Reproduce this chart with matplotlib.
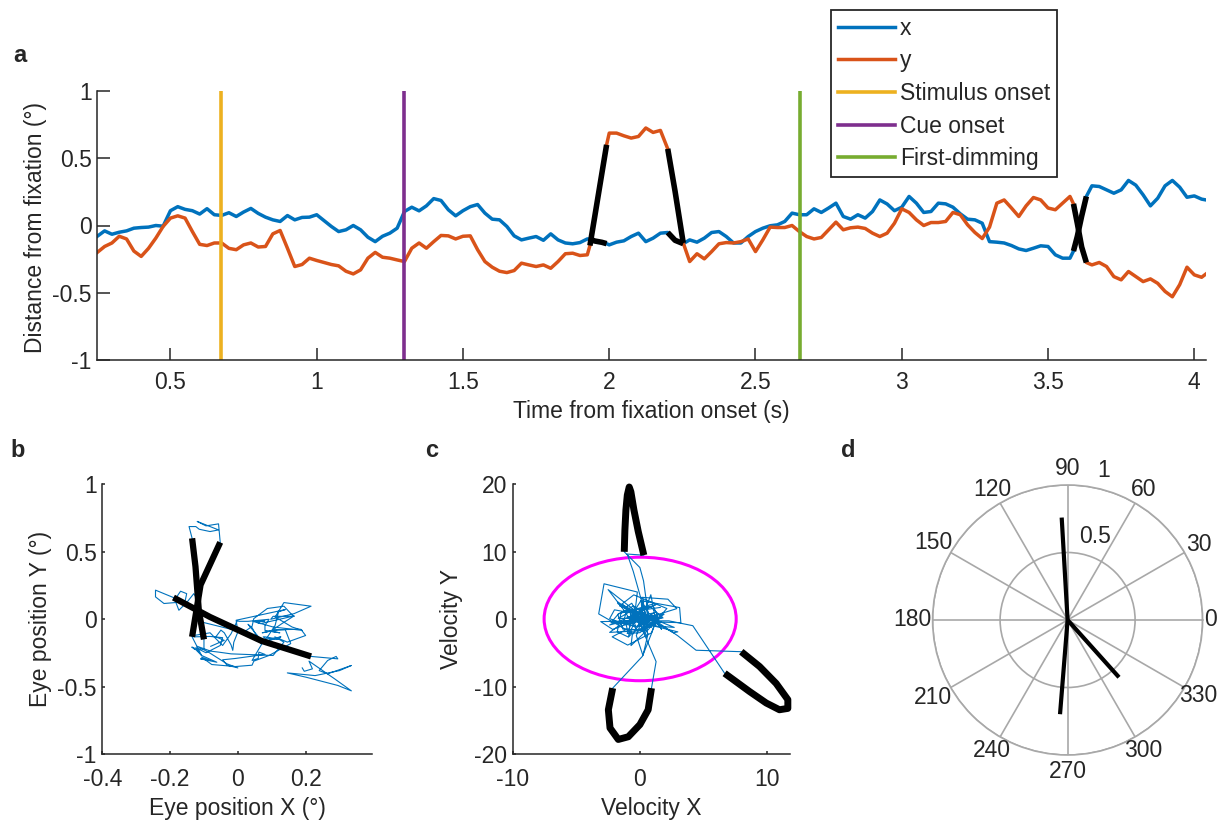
import numpy as np
import matplotlib
matplotlib.use('Agg')
import matplotlib.pyplot as plt
from matplotlib.patches import Ellipse

plt.rcParams['font.family'] = ['Liberation Sans', 'DejaVu Sans']
plt.rcParams['axes.unicode_minus'] = False
FS = 16.5
plt.rcParams['font.size'] = FS
INK = '#262626'
for k in ['text.color', 'axes.labelcolor', 'xtick.color', 'ytick.color', 'axes.edgecolor']:
    plt.rcParams[k] = INK

# ---------------- data ----------------
time_s = [0.250, 0.275, 0.300, 0.325, 0.350, 0.375, 0.400, 0.425, 0.450, 0.475,
          0.500, 0.525, 0.550, 0.575, 0.600, 0.625, 0.650, 0.675, 0.700, 0.725,
          0.750, 0.775, 0.800, 0.825, 0.850, 0.875, 0.900, 0.925, 0.950, 0.975,
          1.000, 1.025, 1.050, 1.075, 1.100, 1.125, 1.150, 1.175, 1.200, 1.225,
          1.250, 1.275, 1.300, 1.325, 1.350, 1.375, 1.400, 1.425, 1.450, 1.475,
          1.500, 1.525, 1.550, 1.575, 1.600, 1.625, 1.650, 1.675, 1.700, 1.725,
          1.750, 1.775, 1.800, 1.825, 1.850, 1.875, 1.900, 1.925,
          1.934, 1.950, 1.975, 1.991,
          2.000, 2.025, 2.050, 2.075, 2.100, 2.125, 2.150, 2.175,
          2.200, 2.225, 2.253,
          2.275, 2.300, 2.325, 2.350, 2.375, 2.400, 2.425, 2.450, 2.475, 2.500,
          2.525, 2.550, 2.575, 2.600, 2.625, 2.650, 2.675, 2.700, 2.725, 2.750,
          2.775, 2.800, 2.825, 2.850, 2.875, 2.900, 2.925, 2.950, 2.975, 3.000,
          3.025, 3.050, 3.075, 3.100, 3.125, 3.150, 3.175, 3.200, 3.225, 3.250,
          3.275, 3.300, 3.325, 3.350, 3.375, 3.400, 3.425, 3.450, 3.475, 3.500,
          3.525, 3.550, 3.575,
          3.587, 3.600, 3.615, 3.631,
          3.650, 3.675, 3.700, 3.725, 3.750, 3.775, 3.800, 3.825, 3.850, 3.875,
          3.900, 3.925, 3.950, 3.975, 4.000, 4.025, 4.040]

pos_x = [-0.080, -0.040, -0.065, -0.050, -0.040, -0.020, -0.015, -0.012, 0.000, -0.005,
         0.110, 0.140, 0.120, 0.110, 0.085, 0.125, 0.080, 0.075, 0.095, 0.067,
         0.100, 0.127, 0.090, 0.062, 0.042, 0.030, 0.074, 0.042, 0.060, 0.062,
         0.080, 0.037, -0.007, -0.045, -0.032, 0.000, -0.032, -0.087, -0.120, -0.080,
         -0.057, -0.020, 0.104, 0.136, 0.109, 0.146, 0.200, 0.186, 0.117, 0.072,
         0.110, 0.140, 0.156, 0.092, 0.047, 0.042, -0.007, -0.077, -0.107, -0.094,
         -0.082, -0.110, -0.062, -0.107, -0.130, -0.136, -0.127, -0.100,
         -0.100, -0.115, -0.125, -0.135,
         -0.144, -0.124, -0.114, -0.082, -0.057, -0.120, -0.094, -0.057,
         -0.052, -0.110, -0.135,
         -0.107, -0.124, -0.094, -0.052, -0.045, -0.082, -0.130, -0.130, -0.082, -0.045,
         -0.020, -0.002, 0.005, 0.030, 0.092, 0.080, 0.080, 0.124, 0.097, 0.130,
         0.166, 0.067, 0.047, 0.080, 0.055, 0.104, 0.190, 0.160, 0.110, 0.136,
         0.216, 0.166, 0.097, 0.104, 0.166, 0.161, 0.136, 0.087, 0.047, 0.042,
         0.017, -0.120, -0.124, -0.130, -0.149, -0.174, -0.186, -0.169, -0.151, -0.156,
         -0.218, -0.243, -0.243,
         -0.190, -0.082, 0.070, 0.216,
         0.295, 0.290, 0.265, 0.240, 0.265, 0.335, 0.300, 0.228, 0.146, 0.203,
         0.295, 0.335, 0.285, 0.210, 0.220, 0.196, 0.190]

pos_y = [-0.200, -0.156, -0.130, -0.080, -0.100, -0.190, -0.230, -0.170, -0.094, -0.007,
         0.055, 0.072, 0.055, -0.045, -0.140, -0.149, -0.130, -0.130, -0.170, -0.180,
         -0.144, -0.130, -0.160, -0.156, -0.062, -0.037, -0.169, -0.305, -0.290, -0.243,
         -0.260, -0.275, -0.290, -0.300, -0.340, -0.360, -0.330, -0.243, -0.200, -0.236,
         -0.243, -0.256, -0.268, -0.169, -0.130, -0.169, -0.120, -0.074, -0.077, -0.100,
         -0.080, -0.077, -0.180, -0.268, -0.310, -0.340, -0.350, -0.335, -0.280, -0.293,
         -0.305, -0.293, -0.318, -0.268, -0.210, -0.206, -0.223, -0.218,
         -0.149, 0.060, 0.390, 0.600,
         0.687, 0.687, 0.667, 0.650, 0.662, 0.725, 0.692, 0.707,
         0.570, 0.255, -0.130,
         -0.268, -0.210, -0.248, -0.194, -0.136, -0.127, -0.130, -0.120, -0.100, -0.194,
         -0.107, -0.012, -0.015, -0.015, 0.000, -0.045, -0.082, -0.100, -0.089, -0.032,
         0.025, -0.032, -0.017, -0.012, -0.022, -0.057, -0.082, -0.057, 0.017, 0.124,
         0.097, 0.042, 0.000, 0.022, 0.022, 0.030, 0.097, 0.080, 0.005, -0.052,
         -0.097, -0.012, 0.166, 0.190, 0.130, 0.067, 0.146, 0.208, 0.190, 0.130,
         0.117, 0.166, 0.216,
         0.161, 0.017, -0.160, -0.275,
         -0.293, -0.275, -0.305, -0.380, -0.404, -0.342, -0.380, -0.417, -0.397, -0.430,
         -0.490, -0.530, -0.440, -0.310, -0.367, -0.385, -0.360]

# saccade windows (start, end) in seconds
saccade_start = [1.934, 2.200, 3.587]
saccade_end = [1.991, 2.253, 3.631]

event_names = ['Stimulus onset', 'Cue onset', 'First-dimming']
event_times = [0.673, 1.300, 2.652]

# saccade velocity loops (panel c)
loop1_vx = [-1.23, -1.18, -1.10, -0.99, -0.84, -0.71, -0.47, -0.13, 0.31]
loop1_vy = [10.0, 13.2, 16.2, 18.4, 19.6, 18.9, 16.2, 13.0, 9.5]
loop2_vx = [-2.14, -2.48, -2.35, -1.70, -0.91, 0.00, 0.65, 0.91]
loop2_vy = [-10.2, -13.4, -16.1, -17.8, -17.4, -15.6, -13.4, -10.2]
loop3_vx = [7.97, 9.41, 10.71, 11.63, 11.63, 10.97, 9.93, 8.62, 6.66]
loop3_vy = [-4.8, -7.0, -9.5, -11.9, -13.2, -13.4, -12.4, -10.7, -8.0]
loops_vx = [loop1_vx, loop2_vx, loop3_vx]
loops_vy = [loop1_vy, loop2_vy, loop3_vy]

thr_center = (0.02, 0.05)
thr_radius_x = 7.55
thr_radius_y = 9.15

# panel d: saccade directions (deg) and amplitudes
sacc_angle_deg = [93.3, 265.4, 311.9]
sacc_amplitude = [0.76, 0.70, 0.57]
polar_angles = list(range(0, 360, 30))

BLUE = '#0072BD'
ORANGE = '#D95319'
EVENT_COLORS = ['#EDB120', '#7E2F8E', '#77AC30']
MAGENTA = '#FF00FF'

t = np.array(time_s)
x = np.array(pos_x)
y = np.array(pos_y)
s_idx = [int(np.argmin(np.abs(t - s))) for s in saccade_start]
e_idx = [int(np.argmin(np.abs(t - e))) for e in saccade_end]

W, H = 1232, 823
fig = plt.figure(figsize=(W / 100, H / 100), dpi=100)


def px_axes(l, r, top, bot, **kw):
    return fig.add_axes([l / W, 1 - bot / H, (r - l) / W, (bot - top) / H], **kw)


def style(ax, ticklen, xpad):
    for s in ['top', 'right']:
        ax.spines[s].set_visible(False)
    for s in ['left', 'bottom']:
        ax.spines[s].set_linewidth(1.1)
    ax.tick_params(direction='in', length=ticklen, width=1.1, labelsize=FS)
    ax.tick_params(axis='x', pad=xpad)
    ax.tick_params(axis='y', pad=4)


# ---------------- panel a ----------------
axa = px_axes(97.3, 1206, 91, 360)
axa.plot(t, x, color=BLUE, lw=2.5, label='x')
axa.plot(t, y, color=ORANGE, lw=2.5, label='y')
for name, et, c in zip(event_names, event_times, EVENT_COLORS):
    axa.plot([et, et], [-1, 1], color=c, lw=2.6, label=name)
for i0, i1 in zip(s_idx, e_idx):
    axa.plot(t[i0:i1 + 1], x[i0:i1 + 1], color='k', lw=4, solid_capstyle='butt')
    axa.plot(t[i0:i1 + 1], y[i0:i1 + 1], color='k', lw=4, solid_capstyle='butt')
axa.set_xlim(0.25, 4.04)
axa.set_ylim(-1, 1)
axa.set_xticks([0.5, 1, 1.5, 2, 2.5, 3, 3.5, 4])
axa.set_xticklabels(['0.5', '1', '1.5', '2', '2.5', '3', '3.5', '4'])
axa.set_yticks([-1, -0.5, 0, 0.5, 1])
axa.set_yticklabels(['-1', '-0.5', '0', '0.5', '1'])
style(axa, 9, 8)
axa.set_xlabel('Time from fixation onset (s)', fontsize=FS)
axa.set_ylabel('Distance from fixation (°)', fontsize=FS)
axa.xaxis.label.set_va('center')
axa.yaxis.label.set_va('center')
axa.xaxis.set_label_coords(0.5, -0.19)
axa.yaxis.set_label_coords(-0.056, 0.494)
leg = axa.legend(loc='upper left', bbox_to_anchor=(831 / W, 1 - 10 / H),
                 bbox_transform=fig.transFigure, borderaxespad=0, fancybox=False,
                 edgecolor=INK, framealpha=1, handlelength=2.5, handletextpad=0.2,
                 labelspacing=0.42, borderpad=0.3, fontsize=FS)
leg.get_frame().set_linewidth(1.3)

# ---------------- panel b ----------------
axb = px_axes(102.3, 371.7, 484.3, 754.3)
axb.plot(x, y, color=BLUE, lw=0.8)
for i0, i1 in zip(s_idx, e_idx):
    axb.plot(x[i0:i1 + 1], y[i0:i1 + 1], color='k', lw=4.5, solid_capstyle='butt')
axb.set_xlim(-0.4, 0.395)
axb.set_ylim(-1, 1)
axb.set_xticks([-0.4, -0.2, 0, 0.2])
axb.set_xticklabels(['-0.4', '-0.2', '0', '0.2'])
axb.set_yticks([-1, -0.5, 0, 0.5, 1])
axb.set_yticklabels(['-1', '-0.5', '0', '0.5', '1'])
style(axb, 2.5, 10)
axb.set_xlabel('Eye position X (°)', fontsize=FS)
axb.set_ylabel('Eye position Y (°)', fontsize=FS)
axb.xaxis.label.set_va('center')
axb.yaxis.label.set_va('center')
axb.xaxis.set_label_coords(0.5, -0.2)
axb.yaxis.set_label_coords(-0.228, 0.5)

# ---------------- panel c ----------------
bounds = [0] + [v for pair in zip(s_idx, e_idx) for v in pair] + [len(t) - 1]
fix_segments = [(bounds[2 * k], bounds[2 * k + 1]) for k in range(4)]
traj_vx, traj_vy = [], []
for k, (a, b) in enumerate(fix_segments):
    traj_vx.extend(np.gradient(x[a:b + 1], t[a:b + 1]))
    traj_vy.extend(np.gradient(y[a:b + 1], t[a:b + 1]))
    if k < 3:
        traj_vx.extend(loops_vx[k])
        traj_vy.extend(loops_vy[k])

axc = px_axes(512.7, 790, 484.3, 754.3)
axc.plot(traj_vx, traj_vy, color=BLUE, lw=0.8)
for lvx, lvy in zip(loops_vx, loops_vy):
    axc.plot(lvx, lvy, color='k', lw=5, solid_capstyle='butt', clip_on=False)
axc.add_patch(Ellipse(thr_center, 2 * thr_radius_x, 2 * thr_radius_y,
                      fill=False, edgecolor=MAGENTA, lw=2.2))
axc.set_xlim(-10, 11.8)
axc.set_ylim(-20, 20)
axc.set_xticks([-10, 0, 10])
axc.set_xticklabels(['-10', '0', '10'])
axc.set_yticks([-20, -10, 0, 10, 20])
axc.set_yticklabels(['-20', '-10', '0', '10', '20'])
style(axc, 2.5, 10)
axc.set_xlabel('Velocity X', fontsize=FS)
axc.set_ylabel('Velocity Y', fontsize=FS)
axc.xaxis.label.set_va('center')
axc.yaxis.label.set_va('center')
axc.xaxis.set_label_coords(0.5, -0.2)
axc.yaxis.set_label_coords(-0.22, 0.5)

# ---------------- panel d ----------------
axd = px_axes(932.6, 1202.6, 485, 755, projection='polar')
GRIDC = '#a8a8a8'
axd.set_thetagrids(polar_angles, labels=[''] * len(polar_angles))
axd.set_rgrids([0.5, 1.0], labels=['', ''])
axd.set_rlim(0, 1)
axd.grid(True, color=GRIDC, lw=1.2, ls='-')
axd.spines['polar'].set_color(GRIDC)
axd.spines['polar'].set_linewidth(1.2)
axd.tick_params(length=0)
for ang, amp in zip(sacc_angle_deg, sacc_amplitude):
    th = np.deg2rad(ang)
    axd.plot([th, th], [0, amp], color='k', lw=3, solid_capstyle='butt')
for ang in polar_angles:
    r = 1.12
    if ang == 0:
        r = 1.06
    elif ang in (150, 180, 210):
        r = 1.15
    axd.text(np.deg2rad(ang), r, str(ang), ha='center', va='center',
             fontsize=FS, clip_on=False)
axd.text(np.deg2rad(72), 0.65, '0.5', ha='center', va='center', fontsize=FS)
axd.text(np.deg2rad(76.4), 1.14, '1', ha='center', va='center', fontsize=FS,
         clip_on=False)

# ---------------- panel letters ----------------
for letter, (lx, ly) in zip('abcd', [(20, 55), (18, 450), (432, 450), (848, 450)]):
    fig.text(lx / W, 1 - ly / H, letter, fontsize=17, fontweight='bold',
             ha='center', va='center')

fig.savefig('out.png', dpi=100)
